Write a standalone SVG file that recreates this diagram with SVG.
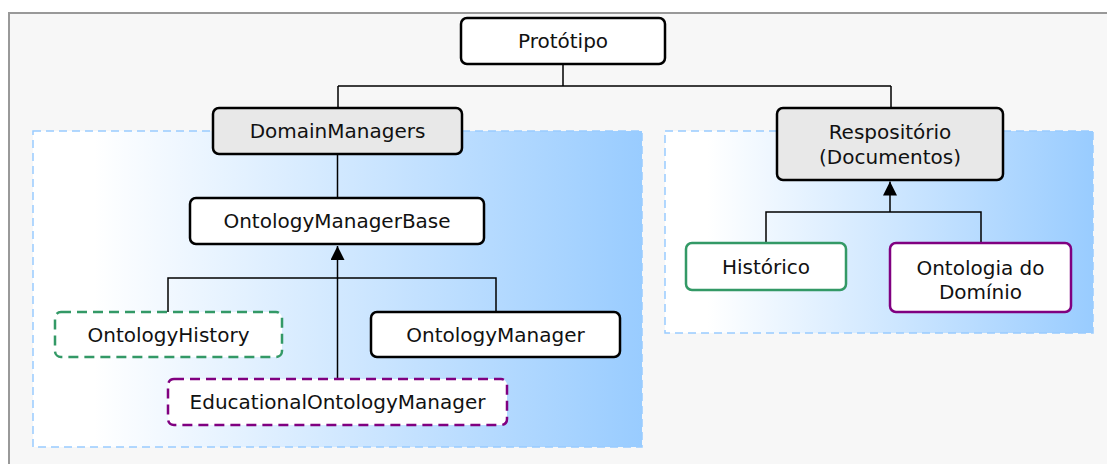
<svg xmlns="http://www.w3.org/2000/svg" width="1107" height="464" viewBox="0 0 1107 464">
  <defs>
    <linearGradient id="grad" x1="0" y1="0" x2="1" y2="0">
      <stop offset="0" stop-color="#ffffff"/>
      <stop offset="0.1" stop-color="#ffffff"/>
      <stop offset="1" stop-color="#99ccff"/>
    </linearGradient>
    <marker id="arrow" viewBox="0 0 10 10" refX="10" refY="5" markerWidth="10" markerHeight="10" markerUnits="userSpaceOnUse" orient="auto">
      <path d="M0,0 L10,5 L0,10 z" fill="#000"/>
    </marker>
    <marker id="tri" viewBox="0 0 14 14" refX="14" refY="7" markerWidth="14" markerHeight="14" markerUnits="userSpaceOnUse" orient="auto">
      <path d="M0,0 L14,7 L0,14 z" fill="#000"/>
    </marker>
  </defs>
  <style>
    .frame { fill: #f7f7f7; stroke: #999999; stroke-width: 2; }
    .cluster { fill: url(#grad); stroke: #99ccff; stroke-width: 1.5; stroke-dasharray: 8 5; }
    .node { fill: #ffffff; stroke: #000000; stroke-width: 2.5; }
    .grey { fill: #e8e8e8; }
    .green { stroke: #339966; }
    .purple { stroke: #800080; }
    .dashed { stroke-dasharray: 10 6; }
    .label { font-family: "DejaVu Sans", Verdana, sans-serif; font-size: 20px; fill: #111111; text-anchor: middle; dominant-baseline: central; }
    .conn { fill: none; stroke: #000000; stroke-width: 1.5; }
  </style>
  <rect class="frame" x="9" y="13" width="1110" height="460"/>
  <rect class="cluster" x="33" y="131" width="609" height="316"/>
  <rect class="cluster" x="665" y="131" width="428" height="202"/>

  <g id="connectors">
    <path class="conn" d="M563,64 V86 M338,86 H891 M338,86 V108 M891,86 V108"/>
    <path class="conn" d="M337.5,154 V198"/>
    <path class="conn" d="M168,312 V278 H496 V312"/>
    <path class="conn" d="M337.5,379 V246" marker-end="url(#tri)"/>
    <path class="conn" d="M766,243 V212 H981 V243"/>
    <path class="conn" d="M890,212 V181.5" marker-end="url(#tri)"/>
  </g>

  <g id="prototipo">
    <rect class="node" x="461" y="18" width="204" height="46" rx="6"/>
    <text class="label" x="563" y="41">Protótipo</text>
  </g>
  <g id="domainmanagers">
    <rect class="node grey" x="213" y="108" width="249" height="46" rx="6"/>
    <text class="label" x="337.5" y="131">DomainManagers</text>
  </g>
  <g id="repositorio">
    <rect class="node grey" x="777" y="108" width="226" height="72" rx="6"/>
    <text class="label" x="890" y="132">Respositório</text>
    <text class="label" x="890" y="157">(Documentos)</text>
  </g>
  <g id="ontologymanagerbase">
    <rect class="node" x="190" y="198" width="294" height="46" rx="6"/>
    <text class="label" x="337" y="221">OntologyManagerBase</text>
  </g>
  <g id="ontologyhistory">
    <rect class="node green dashed" x="55" y="312" width="227" height="45" rx="6"/>
    <text class="label" x="168.5" y="334.5">OntologyHistory</text>
  </g>
  <g id="ontologymanager">
    <rect class="node" x="371" y="312" width="249" height="45" rx="6"/>
    <text class="label" x="495.5" y="334.5">OntologyManager</text>
  </g>
  <g id="educationalontologymanager">
    <rect class="node purple dashed" x="168" y="379" width="339" height="46" rx="6"/>
    <text class="label" x="337.5" y="402">EducationalOntologyManager</text>
  </g>
  <g id="historico">
    <rect class="node green" x="686" y="243" width="160" height="47" rx="6"/>
    <text class="label" x="766" y="266.5">Histórico</text>
  </g>
  <g id="ontologiadominio">
    <rect class="node purple" x="890" y="243" width="181" height="69" rx="6"/>
    <text class="label" x="980.5" y="268">Ontologia do</text>
    <text class="label" x="980.5" y="292">Domínio</text>
  </g>
</svg>
